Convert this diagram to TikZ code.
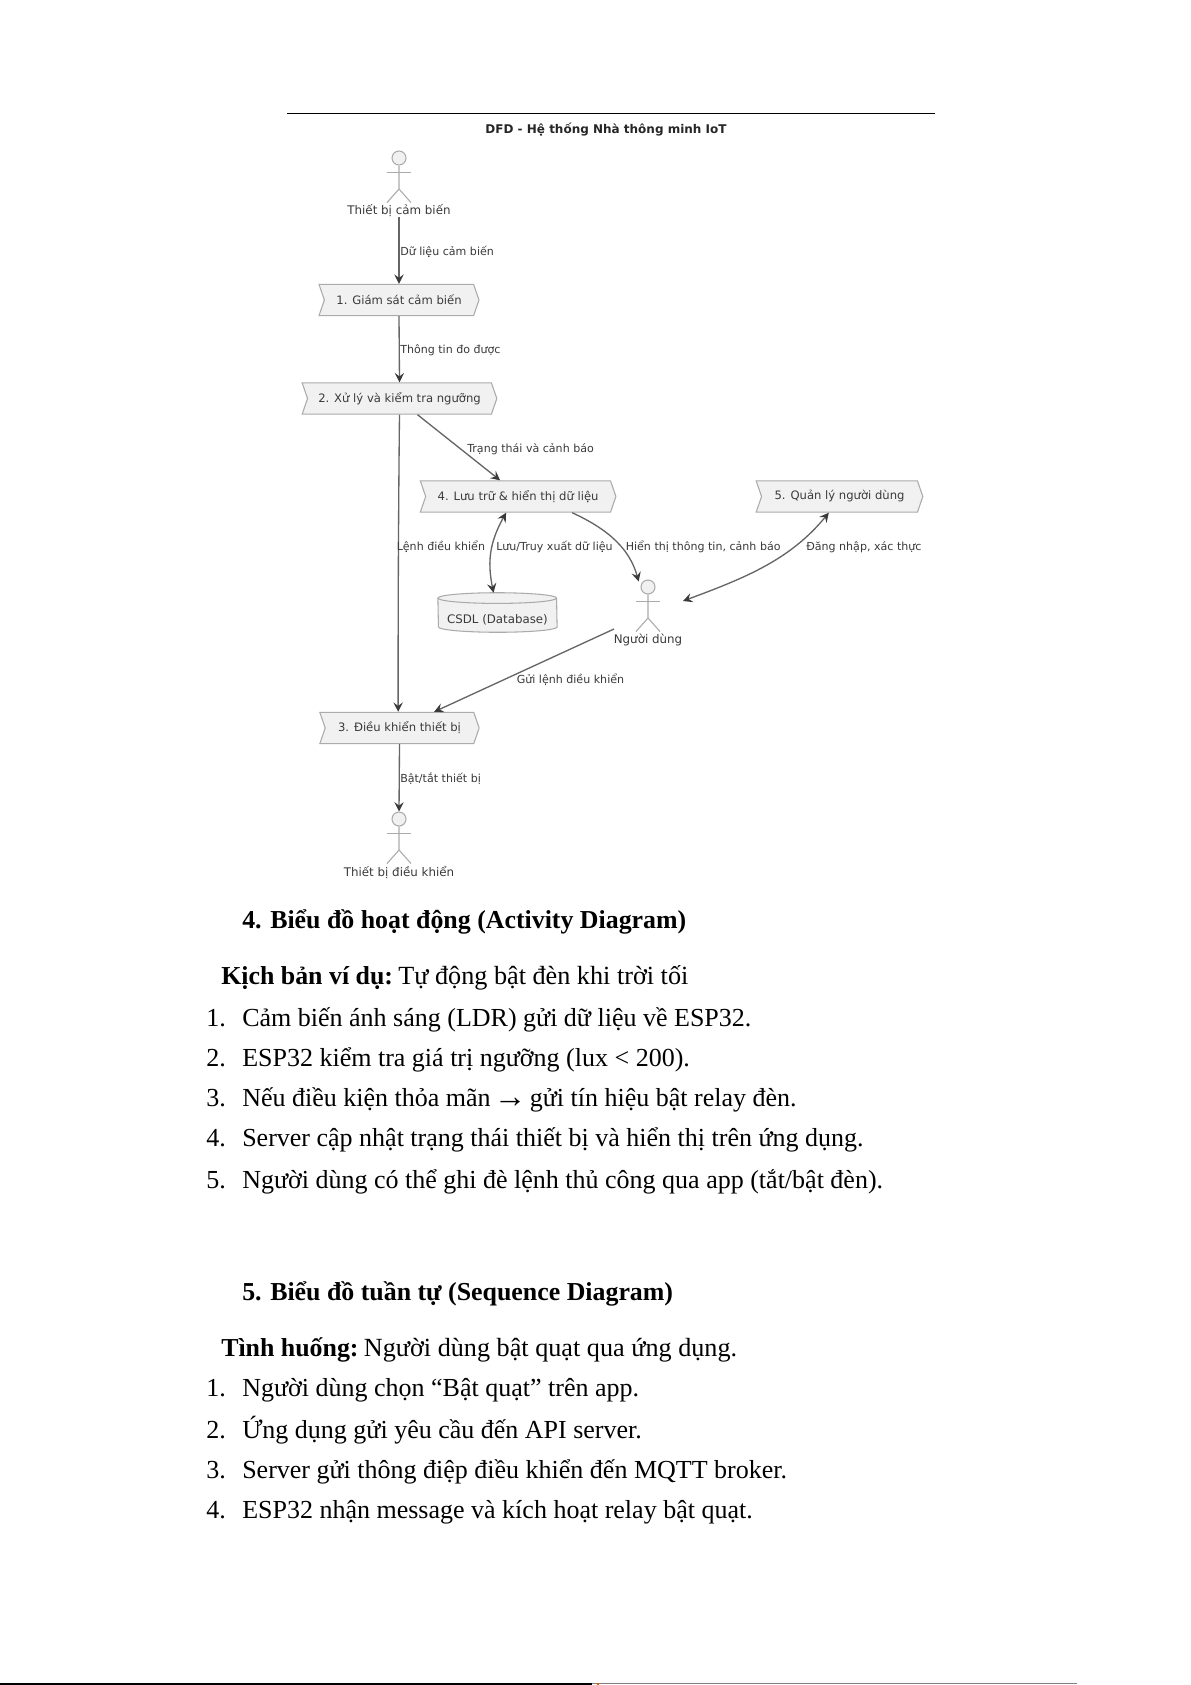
\documentclass[tikz,border=0pt]{standalone}
\usepackage{fontspec}
\setmainfont{Liberation Serif}
\newfontfamily\dvfont{DejaVu Sans}
\usetikzlibrary{arrows.meta,shapes.symbols}
\definecolor{umlfill}{HTML}{F1F1F1}
\definecolor{umlline}{HTML}{ABABAB}
\definecolor{umlarrow}{HTML}{666666}
\definecolor{umltip}{HTML}{3A3A3A}
\definecolor{umltext}{HTML}{3A3A3A}
\newcommand{\bigarrow}{\kern-2.4pt\raisebox{-1pt}{\fontsize{24.5}{23}\selectfont →}\kern-2.4pt}
\newcommand{\plainpart}{\mdseries\fontsize{19.65}{23}\selectfont}
\tikzset{
  process/.style={shape=signal,signal from=west,signal to=east,signal pointer angle=142,
    draw=umlline,fill=umlfill,line width=0.8pt,inner sep=0pt,minimum height=23.5pt,
    text=umltext,font=\dvfont\fontsize{8.7}{10}\selectfont},
  flow/.style={draw=umlarrow,line width=1pt,-{Stealth[length=7pt,width=7pt,inset=2.6pt,color=umltip]}},
  flowboth/.style={draw=umlarrow,line width=1pt,{Stealth[length=7pt,width=7pt,inset=2.6pt,color=umltip]}-{Stealth[length=7pt,width=7pt,inset=2.6pt,color=umltip]}},
  flowlabel/.style={anchor=base west,inner sep=0pt,text=umltext,font=\dvfont\fontsize{8.3}{9}\selectfont},
  actorhead/.style={shape=circle,draw=umlline,fill=umlfill,line width=0.8pt,inner sep=0pt,minimum size=10.5pt},
  actorbody/.style={draw=umlline,line width=0.8pt},
  actorlabel/.style={inner sep=0pt,text=umltext,font=\dvfont\fontsize{8.9}{10}\selectfont},
  titletext/.style={inner sep=0pt,text=black!85,font=\dvfont\bfseries\fontsize{9}{10}\selectfont},
  bodytext/.style={anchor=base west,inner sep=0pt,font=\fontsize{19.5}{23}\selectfont},
  headtext/.style={anchor=base west,inner sep=0pt,font=\bfseries\fontsize{19.4}{23}\selectfont},
}
\newcommand{\umlactor}[4]{%
  \node[actorhead] (#1) at (#2,#3) {};
  \draw[actorbody] (#1.south) -- ++(0,23.5) -- ++(-12,13.5);
  \draw[actorbody] (#1.south) ++(0,23.5) -- ++(12,13.5);
  \draw[actorbody] (#1.south) ++(-12,7) -- ++(24,0);
  \node[actorlabel] (#1label) at (#2,#3+53) {#4};
}
\begin{document}
\begin{tikzpicture}[x=0.75pt,y=-0.75pt]
\useasboundingbox (0,0) rectangle (1191,1685);
\fill[white] (0,0) rectangle (1191,1685);
% top rule and title
\coordinate (ruleL) at (287,113.5);
\coordinate (ruleR) at (935,113.5);
\draw[line width=0.9pt,black] (ruleL) -- (ruleR);
\node[titletext] (title) at (606,130) {DFD - Hệ thống Nhà thông minh IoT};
% processes
\node[process,minimum width=120pt] (p1) at (399,300) {1. Giám sát cảm biến};
\node[process,minimum width=146pt] (p2) at (399.5,398.5) {2. Xử lý và kiểm tra ngưỡng};
\node[process,minimum width=146.7pt] (p4) at (518.1,496.5) {4. Lưu trữ \& hiển thị dữ liệu};
\node[process,minimum width=125pt] (p5) at (839.5,496.5) {5. Quản lý người dùng};
\node[process,minimum width=119.5pt] (p3) at (399.5,728) {3. Điều khiển thiết bị};
% actors
\umlactor{a1}{399}{158}{Thiết bị cảm biến}
\umlactor{a2}{648}{587}{Người dùng}
\umlactor{a3}{399}{819}{Thiết bị điều khiển}
% database
\node[inner sep=0pt,minimum width=89pt,minimum height=29.25pt] (db) at (497.5,612.5) {};
\draw[draw=umlline,fill=umlfill,line width=0.8pt] ([yshift=-4pt]db.north west) arc[x radius=44.5pt,y radius=4pt,start angle=180,end angle=0] -- ([yshift=4pt]db.south east) arc[x radius=44.5pt,y radius=4pt,start angle=0,end angle=-180] -- cycle;
\draw[draw=umlline,line width=0.8pt] ([yshift=-4pt]db.north west) arc[x radius=44.5pt,y radius=4pt,start angle=180,end angle=360];
\node[inner sep=0pt,text=umltext,font=\dvfont\fontsize{8.85}{10}\selectfont] (dbtext) at (497.5,620) {CSDL (Database)};
% connectors
\draw[flow] (a1label.south) -- (p1.north);
\draw[flow] (p1.south) -- (p2.north);
\draw[flow] ([xshift=13.5pt]p2.south) -- ([xshift=-13.5pt]p4.north);
\draw[flow] (p2.south) .. controls (398.5,500) and (398,620) .. ([xshift=-1pt]p3.north);
\draw[flowboth] ([xshift=-9pt]p4.south) .. controls (488,545) and (488,565) .. ([xshift=-3pt]db.north);
\draw[flow] ([xshift=40.5pt]p4.south) .. controls (610,530) and (630,550) .. ([xshift=-7pt,yshift=-1.5pt]a2.north);
\coordinate (a2R) at (683,601);
\draw[flowboth] (a2R) .. controls (745,578) and (790,560) .. ([xshift=-8pt]p5.south);
\coordinate (a2L) at (614,629);
\draw[flow] (a2L) -- ([xshift=26pt]p3.north);
\draw[flow] (p3.south) -- (a3.north);
% labels
\node[flowlabel] (l1) at (400,255) {Dữ liệu cảm biến};
\node[flowlabel] (l2) at (400,353) {Thông tin đo được};
\node[flowlabel] (l3) at (467,452) {Trạng thái và cảnh báo};
\node[flowlabel] (l4) at (396.5,550) {Lệnh điều khiển};
\node[flowlabel] (l5) at (496,550) {Lưu/Truy xuất dữ liệu};
\node[flowlabel] (l6) at (625.5,550) {Hiển thị thông tin, cảnh báo};
\node[flowlabel] (l7) at (806,550) {Đăng nhập, xác thực};
\node[flowlabel] (l8) at (516.5,683) {Gửi lệnh điều khiển};
\node[flowlabel] (l9) at (400,782) {Bật/tắt thiết bị};
% body text
\node[headtext] (h4) at (242,928) {4. Biểu đồ hoạt động (Activity Diagram)};
\node[headtext] (k4) at (221,984) {Kịch bản ví dụ:\hspace{-2.5pt} \plainpart Tự động bật đèn khi trời tối};
\node[bodytext] (n41) at (206,1026) {1.};
\node[bodytext] (t41) at (242,1026) {Cảm biến ánh sáng (LDR) gửi dữ liệu về ESP32.};
\node[bodytext] (n42) at (206,1066) {2.};
\node[bodytext] (t42) at (242,1066) {ESP32 kiểm tra giá trị ngưỡng (lux < 200).};
\node[bodytext] (n43) at (206,1106) {3.};
\node[bodytext] (t43) at (242,1106) {Nếu điều kiện thỏa mãn \bigarrow{} gửi tín hiệu bật relay đèn.};
\node[bodytext] (n44) at (206,1146) {4.};
\node[bodytext] (t44) at (242,1146) {Server cập nhật trạng thái thiết bị và hiển thị trên ứng dụng.};
\node[bodytext] (n45) at (206,1188) {5.};
\node[bodytext] (t45) at (242,1188) {Người dùng có thể ghi đè lệnh thủ công qua app (tắt/bật đèn).};
\node[headtext] (h5) at (242,1300) {5. Biểu đồ tuần tự (Sequence Diagram)};
\node[headtext] (k5) at (221,1356) {Tình huống:\hspace{-2.5pt} \plainpart Người dùng bật quạt qua ứng dụng.};
\node[bodytext] (n51) at (206,1396) {1.};
\node[bodytext] (t51) at (242,1396) {Người dùng chọn “Bật quạt” trên app.};
\node[bodytext] (n52) at (206,1438) {2.};
\node[bodytext] (t52) at (242,1438) {Ứng dụng gửi yêu cầu đến API server.};
\node[bodytext] (n53) at (206,1478) {3.};
\node[bodytext] (t53) at (242,1478) {Server gửi thông điệp điều khiển đến MQTT broker.};
\node[bodytext] (n54) at (206,1518) {4.};
\node[bodytext] (t54) at (242,1518) {ESP32 nhận message và kích hoạt relay bật quạt.};
% bottom edge
\fill[black] (0,1683) rectangle (592,1685);
\fill[black!50] (592,1683) rectangle (1077,1684);
\fill[orange!80!black] (597,1683) rectangle (599,1685);
\end{tikzpicture}
\end{document}
